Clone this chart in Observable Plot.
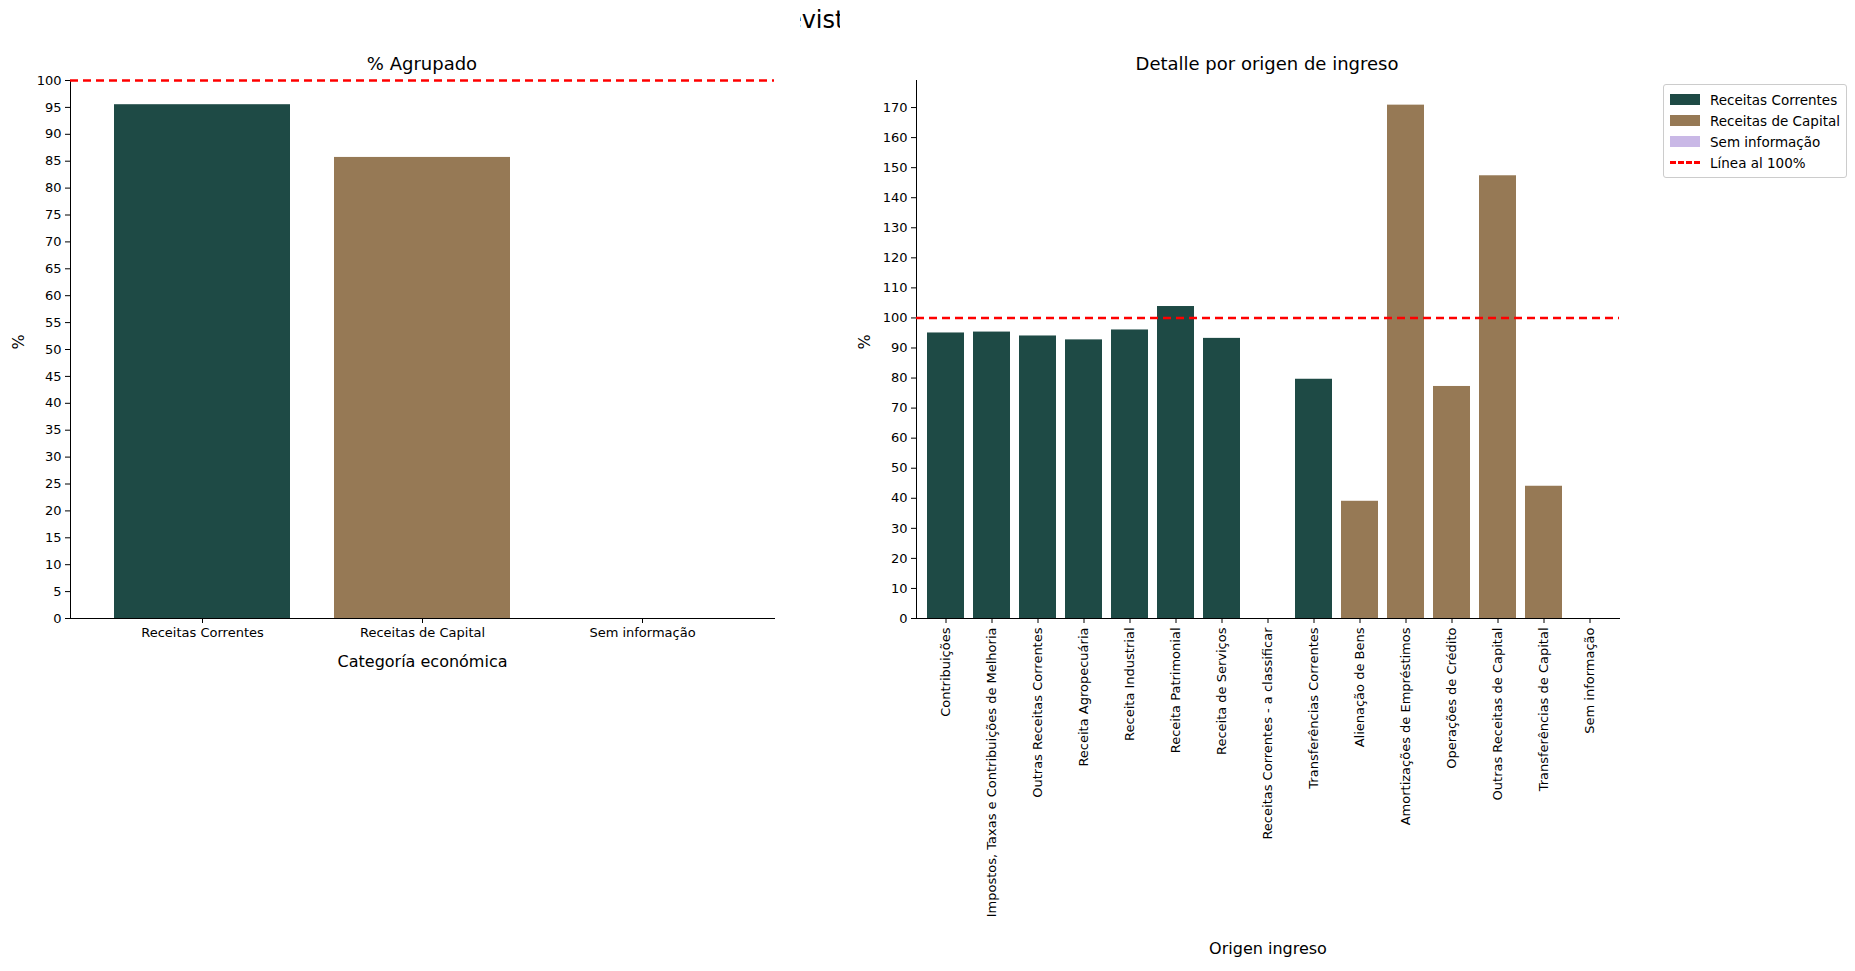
<!DOCTYPE html>
<html><head><meta charset="utf-8">
<script src="https://cdn.jsdelivr.net/npm/d3@7"></script>
<script src="https://cdn.jsdelivr.net/npm/@observablehq/plot@0.6"></script>
<style>
body{margin:0;background:#fff;font-family:"DejaVu Sans",sans-serif;}
#wrap{position:relative;width:1855px;height:971px;}
.t{position:absolute;white-space:nowrap;transform:translateX(-50%);color:#000}
#left,#right{position:absolute;top:0}
#left{left:0}#right{left:840px}
#legend{position:absolute;left:1663px;top:84px;border:1px solid #ccc;border-radius:3px;padding:4px 6px;font-size:13.5px;background:#fff}
#legend div{display:flex;align-items:center;height:21px}
#legend span.s{display:inline-block;width:30px;height:11px;margin-right:10px}
</style></head><body>
<div id="wrap">
<div class="t" style="left:822px;top:6px;font-size:24px">Relación entre el Valor realizado y el Valor previsto actualizado para cada Categoría Económica</div>
<div id="left"></div><div id="right"></div>
<div class="t" style="left:422px;top:53px;font-size:18px">% Agrupado</div>
<div class="t" style="left:1267px;top:53px;font-size:18px">Detalle por origen de ingreso</div>
<div id="legend"></div>
</div>
<script>
const groupCats=["Receitas Correntes","Receitas de Capital","Sem informação"];
const groupVals=[95.5,85.7,0];
const origins=["Contribuições","Impostos, Taxas e Contribuições de Melhoria","Outras Receitas Correntes","Receita Agropecuária","Receita Industrial","Receita Patrimonial","Receita de Serviços","Receitas Correntes - a classificar","Transferências Correntes","Alienação de Bens","Amortizações de Empréstimos","Operações de Crédito","Outras Receitas de Capital","Transferências de Capital","Sem informação"];
const originCat=["Receitas Correntes","Receitas Correntes","Receitas Correntes","Receitas Correntes","Receitas Correntes","Receitas Correntes","Receitas Correntes","Receitas Correntes","Receitas Correntes","Receitas de Capital","Receitas de Capital","Receitas de Capital","Receitas de Capital","Receitas de Capital","Sem informação"];
const originVals=[95,95.3,94,92.7,96,103.8,93.2,0,79.6,39,170.8,77.2,147.3,44,0];
const colors=["#1e4a45","#967955","#c9b8e6"];
const color={domain:groupCats,range:colors};
const font={fontFamily:"DejaVu Sans",fontSize:"13px",color:"#000",background:"#fff"};

const g=groupCats.map((c,i)=>({cat:c,v:groupVals[i]}));
const o=origins.map((c,i)=>({o:c,cat:originCat[i],v:originVals[i]}));

const left=Plot.plot({
  width:800,height:680,marginLeft:70,marginRight:26,marginTop:80,marginBottom:62,
  style:font,
  x:{domain:groupCats,padding:0.2,label:null},
  y:{domain:[0,100],ticks:[0,20,40,60,80,100],label:null},
  color,
  marks:[
    Plot.barY(g,{x:"cat",y:"v",fill:"cat"}),
    Plot.axisX({tickSize:5,tickPadding:4,fontSize:13}),
    Plot.axisY({tickSize:5,tickPadding:4,fontSize:13}),
    Plot.frame({anchor:"left"}),Plot.frame({anchor:"bottom"}),
    Plot.ruleY([100],{stroke:"#ff0000",strokeWidth:2.5,strokeDasharray:"8,5"}),
    Plot.text(["Categoría económica"],{frameAnchor:"bottom",dy:48,fontSize:16}),
    Plot.text(["%"],{frameAnchor:"left",dx:-52,rotate:-90,fontSize:16})
  ]
});
document.getElementById("left").append(left);

const right=Plot.plot({
  width:800,height:971,marginLeft:76,marginRight:21,marginTop:80,marginBottom:353,
  style:font,
  x:{domain:origins,padding:0.2,label:null},
  y:{domain:[0,179],ticks:[0,20,40,60,80,100,120,140,160],label:null},
  color,
  marks:[
    Plot.barY(o,{x:"o",y:"v",fill:"cat"}),
    Plot.axisX({tickSize:5,tickPadding:4,tickRotate:-90,fontSize:13}),
    Plot.axisY({tickSize:5,tickPadding:4,fontSize:13}),
    Plot.frame({anchor:"left"}),Plot.frame({anchor:"bottom"}),
    Plot.ruleY([100],{stroke:"#ff0000",strokeWidth:2.5,strokeDasharray:"8,5"}),
    Plot.text(["Origen ingreso"],{frameAnchor:"bottom",dy:335,fontSize:16}),
    Plot.text(["%"],{frameAnchor:"left",dx:-52,rotate:-90,fontSize:16})
  ]
});
document.getElementById("right").append(right);

const lg=document.getElementById("legend");
groupCats.forEach((c,i)=>{lg.innerHTML+=`<div><span class="s" style="background:${colors[i]}"></span>${c}</div>`});
lg.innerHTML+=`<div><span class="s" style="height:0;border-top:3px dashed #ff0000;background:none"></span>Línea al 100%</div>`;
</script>
</body></html>
